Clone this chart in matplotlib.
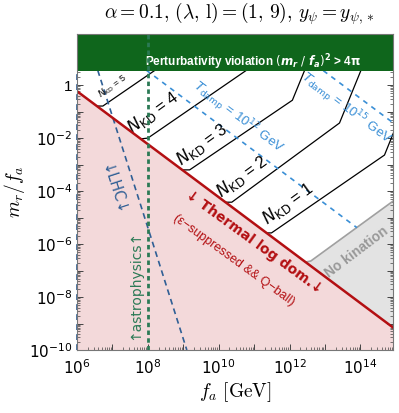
import numpy as np
import matplotlib
matplotlib.use("Agg")
import matplotlib.pyplot as plt
from matplotlib.ticker import FixedLocator, LogLocator, NullFormatter, FixedFormatter

plt.rcParams['font.family'] = ['Liberation Sans', 'DejaVu Sans']

# ---------------- data (log10 values) ----------------
x_range = [6.0, 14.92]           # log10 f_a
y_range = [-10.0, 1.93]          # log10 m_r/f_a

# thermal log domination boundary
red_logfa = [6.0, 14.92]
red_logmr = [-0.23, -9.15]

# perturbativity bound (m_r/f_a)^2 > 4 pi
pert_bound = np.sqrt(4 * np.pi)

# N_KD contours (log10 f_a, log10 m_r/f_a)
nkd_labels = ['5', '4', '3', '2', '1']
nkd_logfa = [
    [6.56, 6.73, 8.68],
    [7.80, 8.00, 11.26],
    [8.97, 9.18, 12.08, 12.56],
    [10.19, 10.37, 13.41, 14.15],
    [11.35, 11.49, 14.68, 15.0],
]
nkd_logmr = [
    [-0.79, -0.79, 1.0],
    [-2.03, -2.00, 1.0],
    [-3.20, -3.20, -0.57, 1.0],
    [-4.42, -4.42, -1.43, 1.0],
    [-5.58, -5.58, -2.64, -1.58],
]
nkd_label_pos = [(7.01, -0.04), (8.14, -1.02), (9.52, -2.26), (10.65, -3.47), (11.94, -4.49)]
nkd_label_size = [6.5, 12, 12, 12, 12]

# no kination boundary
nokin_logfa = [12.45, 12.60, 14.92]
nokin_logmr = [-6.68, -6.64, -4.38]

# T_damp lines
tdamp_labels = ['12', '15']
tdamp_logfa = [[7.5, 13.9], [12.5, 15.0]]
tdamp_logmr = [[1.02, -5.38], [1.0, -1.5]]
tdamp_label_pos = [(10.54, -1.21), (13.6, -0.87)]

# LHC bound
lhc_logfa = [6.5, 9.1]
lhc_logmr = [0.92, -10.0]

# astrophysics bound
astro_logfa = 8.0

# axis ticks
xtick_exp = [6, 8, 10, 12, 14]
ytick_exp = [-10, -8, -6, -4, -2, 0]
ytick_labels = [r'$10^{-10}$', r'$10^{-8}$', r'$10^{-6}$', r'$10^{-4}$', r'$10^{-2}$', '1']

# colours
c_pink = '#f3d9da'
c_gray_fill = '#e3e3e3'
c_gray_line = '#a0a0a0'
c_red = '#b30f12'
c_green = '#0f661c'
c_astro = '#2b7a55'
c_lhc = '#2f5f95'
c_tdamp = '#3a8fd6'

P = lambda a: 10 ** np.asarray(a, dtype=float)

fig = plt.figure(figsize=(3.99, 4.13), dpi=100)
ax = fig.add_axes([77 / 399, 1 - 350 / 413, (393 - 77) / 399, (350 - 34) / 413])
ax.set_xscale('log')
ax.set_yscale('log')
xlo, xhi = P(x_range)
ylo, yhi = P(y_range)
ax.set_xlim(xlo, xhi)
ax.set_ylim(ylo, yhi)

# pink region below thermal line
rx = P(red_logfa)
ry = P(red_logmr)
ax.fill_between(rx, ry, ylo, color=c_pink, lw=0, zorder=1)

# gray no-kination region
gx = P(nokin_logfa)
gy = P(nokin_logmr)
red_at = lambda lx: 10 ** (np.interp(lx, red_logfa, red_logmr))
poly_x = np.concatenate([gx, [xhi, gx[0]]])
poly_y = np.concatenate([gy, [red_at(np.log10(xhi)), red_at(np.log10(gx[0]))]])
ax.fill(poly_x, poly_y, color=c_gray_fill, lw=0, zorder=1)
ax.plot(gx, gy, color=c_gray_line, lw=1.2, zorder=3, solid_joinstyle='round')

# N_KD lines
for lab, lx, ly, pos, fs in zip(nkd_labels, nkd_logfa, nkd_logmr, nkd_label_pos, nkd_label_size):
    ax.plot(P(lx), P(ly), color='black', lw=0.9, zorder=3, solid_joinstyle='round')
    ax.text(10 ** pos[0], 10 ** pos[1], r'$N_{\rm KD}$ = ' + lab, fontsize=fs,
            rotation=36, ha='center', va='center', math_fontfamily='dejavusans', zorder=4)

# T_damp lines
for lab, lx, ly, pos in zip(tdamp_labels, tdamp_logfa, tdamp_logmr, tdamp_label_pos):
    ax.plot(P(lx), P(ly), color=c_tdamp, lw=1.2, ls=(0, (3, 3)), zorder=3)
    ax.text(10 ** pos[0], 10 ** pos[1], r'$T_{\rm damp}$ = 10$^{' + lab + '}$ GeV',
            fontsize=9.5, color=c_tdamp, rotation=-37, ha='center', va='center',
            math_fontfamily='dejavusans', zorder=4)

# LHC line
ax.plot(P(lhc_logfa), P(lhc_logmr), color=c_lhc, lw=1.2, ls=(0, (3.5, 2.5)), zorder=3)
ax.plot([xlo, xlo], [ylo, pert_bound], color=c_lhc, lw=1.2, ls=(0, (3.5, 2.5)), zorder=3, clip_on=False)
ax.text(10 ** 7.04, 10 ** -3.96, '↓LHC↓', fontsize=10.5, color=c_lhc, rotation=-72,
        ha='center', va='center', family=['DejaVu Sans'], zorder=4)

# thermal line
ax.plot(rx, ry, color=c_red, lw=1.8, zorder=5)
ax.text(10 ** 10.99, 10 ** -5.92, '↓ Thermal log dom.↓', fontsize=10, fontweight='bold',
        color=c_red, rotation=-36, ha='center', va='center', family=['DejaVu Sans'], zorder=6)
ax.text(10 ** 10.42, 10 ** -6.6, '(ε−suppressed && Q−ball)', fontsize=9, color=c_red,
        rotation=-36, ha='center', va='center', zorder=6)

ax.text(10 ** 13.89, 10 ** -6.3, 'No kination', fontsize=10, fontweight='bold', color='#999999',
        rotation=37, ha='center', va='center', zorder=6)

# perturbativity band
ax.fill_between([xlo, xhi], pert_bound, yhi, color=c_green, lw=0, zorder=7)
ax.text(10 ** 10.96, 10 ** 0.87,
        r'Perturbativity violation $(\mathbfit{m_r}\ /\ \mathbfit{f_a})^{\mathbf{2}}$ > 4$\mathbf{\pi}$',
        fontsize=8.5, fontweight='bold', color='white', ha='center', va='center',
        math_fontfamily='dejavusans', zorder=8)

# astrophysics line
ax.axvline(10 ** astro_logfa, color=c_astro, lw=2.0, ls=(0, (1.6, 1.2)), zorder=9)
ax.text(10 ** 7.63, 10 ** -7.55, '↑astrophysics↑', fontsize=10, color=c_astro, rotation=90,
        ha='center', va='center', family=['DejaVu Sans'], zorder=6)

# ticks
ax.xaxis.set_major_locator(FixedLocator([10.0 ** e for e in range(6, 15)]))
ax.xaxis.set_major_formatter(FixedFormatter(
    [r'$10^{%d}$' % e if e in xtick_exp else '' for e in range(6, 15)]))
ax.yaxis.set_major_locator(FixedLocator([10.0 ** e for e in range(-10, 2)]))
ylab_map = dict(zip(ytick_exp, ytick_labels))
ax.yaxis.set_major_formatter(FixedFormatter([ylab_map.get(e, '') for e in range(-10, 2)]))
ax.xaxis.set_minor_locator(LogLocator(base=10, subs=np.arange(2, 10), numticks=100))
ax.yaxis.set_minor_locator(LogLocator(base=10, subs=np.arange(2, 10), numticks=100))
ax.xaxis.set_minor_formatter(NullFormatter())
ax.yaxis.set_minor_formatter(NullFormatter())
ax.tick_params(which='both', direction='in', top=True, right=True, labelsize=11,
               color='#444444')
ax.tick_params(axis='x', which='major', pad=6)
ax.tick_params(which='major', length=4, width=0.7)
ax.tick_params(which='minor', length=2, width=0.5)
for lbl in ax.get_xticklabels() + ax.get_yticklabels():
    lbl.set_math_fontfamily('dejavusans')
for s in ax.spines.values():
    s.set_color('#777777')
    s.set_linewidth(0.8)
    s.set_zorder(10)

ax.set_xlabel(r'$f_a\ [\mathrm{GeV}]$', fontsize=14, math_fontfamily='cm', labelpad=2)
ax.set_ylabel(r'$m_r/f_a$', fontsize=14, math_fontfamily='cm', labelpad=1)
fig.text(239 / 399, 1 - 14 / 413,
         r'$\alpha=0.1,\,(\lambda,\,{\rm l})=(1,\,9),\,y_\psi=y_{\psi,*}$',
         fontsize=14, math_fontfamily='cm', ha='center', va='center')

fig.savefig('out.png', dpi=100)
